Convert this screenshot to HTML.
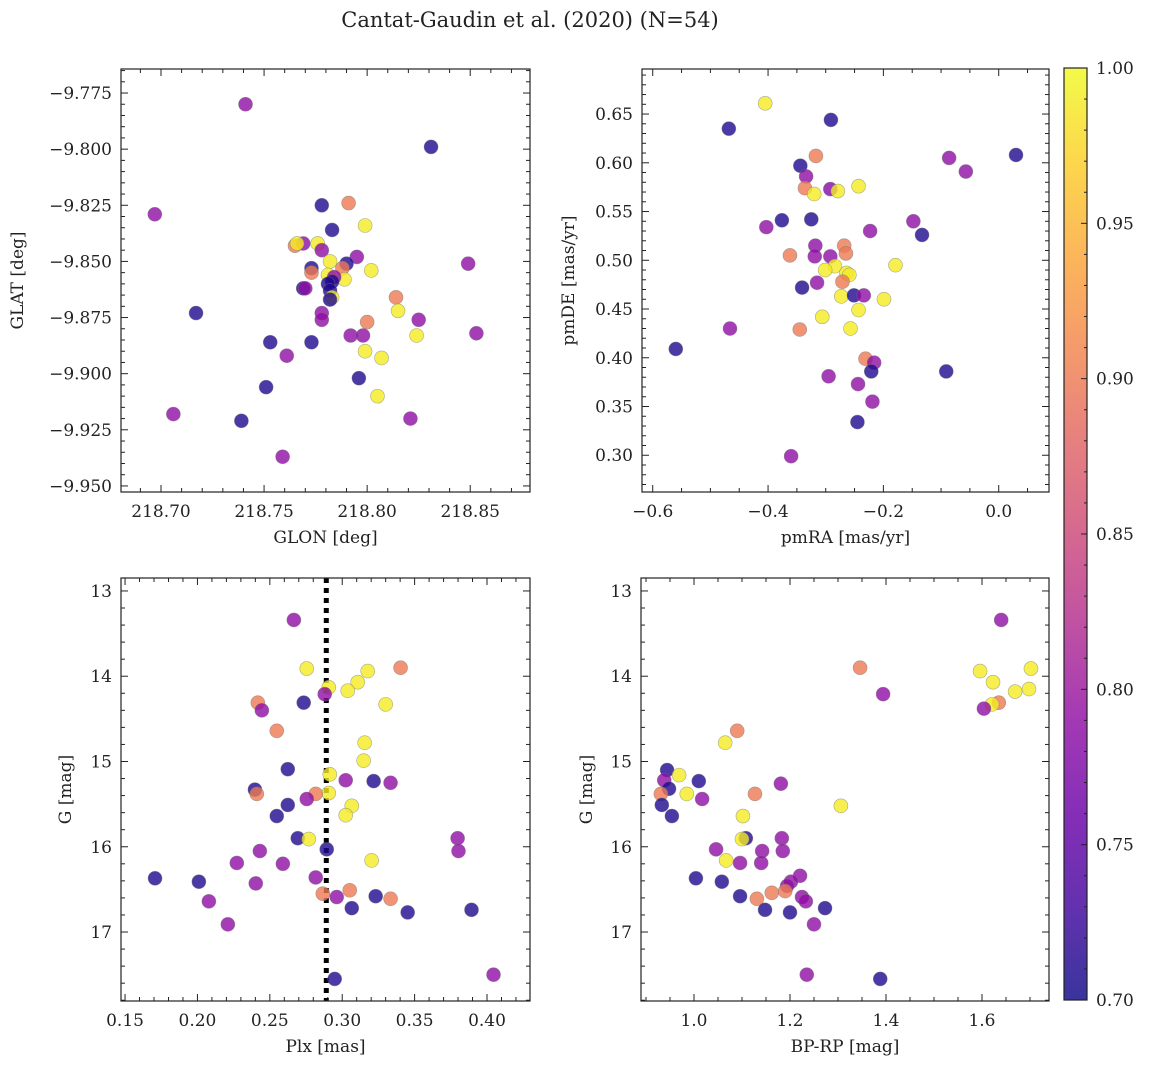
<!DOCTYPE html>
<html><head><meta charset="utf-8"><style>
html,body{margin:0;padding:0;background:#fff;}
svg text{font-family:"DejaVu Serif","Liberation Serif",serif;fill:#222;}
</style></head><body>
<svg id="fig" width="1149" height="1068" viewBox="0 0 1149 1068" xmlns="http://www.w3.org/2000/svg">
<defs>
<linearGradient id="plasma" x1="0" y1="1" x2="0" y2="0">
<stop offset="0" stop-color="#0d0887"/><stop offset="0.1" stop-color="#41049d"/><stop offset="0.2" stop-color="#6a00a8"/><stop offset="0.3" stop-color="#8f0da4"/><stop offset="0.4" stop-color="#b12a90"/><stop offset="0.5" stop-color="#cc4778"/><stop offset="0.6" stop-color="#e16462"/><stop offset="0.7" stop-color="#f2844b"/><stop offset="0.8" stop-color="#fca636"/><stop offset="0.9" stop-color="#fcce25"/><stop offset="1" stop-color="#f0f921"/>
</linearGradient>
</defs>
<text x="530" y="27" font-size="21" text-anchor="middle">Cantat-Gaudin et al. (2020) (N=54)</text>
</svg>
<script>
// Panel 1: GLON vs GLAT
const p1Glon=[218.741,218.831,218.697,218.778,218.791,218.799,218.783,218.769,218.765,218.766,218.776,218.778,218.795,218.790,218.782,218.773,218.773,218.788,218.802,218.781,218.789,218.784,218.783,218.781,218.782,218.769,218.770,218.783,218.782,218.814,218.849,218.717,218.778,218.778,218.815,218.825,218.800,218.792,218.798,218.824,218.853,218.753,218.773,218.761,218.799,218.807,218.796,218.751,218.805,218.706,218.739,218.821,218.759];
const p1Glat=[-9.780,-9.799,-9.829,-9.825,-9.824,-9.834,-9.836,-9.842,-9.843,-9.842,-9.842,-9.845,-9.848,-9.851,-9.850,-9.853,-9.855,-9.853,-9.854,-9.856,-9.858,-9.857,-9.859,-9.860,-9.863,-9.862,-9.862,-9.866,-9.867,-9.866,-9.851,-9.873,-9.873,-9.876,-9.872,-9.876,-9.877,-9.883,-9.883,-9.883,-9.882,-9.886,-9.886,-9.892,-9.890,-9.893,-9.902,-9.906,-9.910,-9.918,-9.921,-9.920,-9.937];
const p1Prob=[0.79,0.71,0.79,0.71,0.90,0.99,0.71,0.79,0.90,0.99,0.99,0.79,0.79,0.71,0.99,0.71,0.90,0.90,0.99,0.99,0.99,0.79,0.71,0.71,0.71,0.71,0.79,0.99,0.71,0.90,0.79,0.71,0.79,0.79,0.99,0.79,0.90,0.79,0.79,0.99,0.79,0.71,0.71,0.79,0.99,0.99,0.71,0.71,0.99,0.79,0.71,0.79,0.79];
// Panel 2: pmRA vs pmDE
const p2Pmra=[-0.405,-0.468,-0.291,0.030,-0.086,-0.057,-0.344,-0.317,-0.334,-0.336,-0.292,-0.279,-0.320,-0.243,-0.376,-0.325,-0.403,-0.148,-0.133,-0.223,-0.318,-0.268,-0.362,-0.319,-0.292,-0.265,-0.284,-0.179,-0.301,-0.264,-0.259,-0.341,-0.315,-0.271,-0.273,-0.251,-0.234,-0.199,-0.243,-0.306,-0.466,-0.345,-0.257,-0.560,-0.231,-0.216,-0.221,-0.091,-0.295,-0.244,-0.219,-0.245,-0.360];
const p2Pmde=[0.661,0.635,0.644,0.608,0.605,0.591,0.597,0.607,0.586,0.574,0.573,0.571,0.568,0.576,0.541,0.542,0.534,0.540,0.526,0.530,0.515,0.515,0.505,0.504,0.504,0.507,0.494,0.495,0.490,0.487,0.485,0.472,0.477,0.478,0.463,0.464,0.464,0.460,0.449,0.442,0.430,0.429,0.430,0.409,0.399,0.395,0.386,0.386,0.381,0.373,0.355,0.334,0.299];
const p2Prob=[0.99,0.71,0.71,0.71,0.79,0.79,0.71,0.90,0.79,0.90,0.78,0.99,0.99,0.99,0.71,0.71,0.79,0.79,0.71,0.79,0.79,0.90,0.90,0.79,0.79,0.90,0.99,0.99,0.99,0.99,0.99,0.71,0.79,0.90,0.99,0.71,0.79,0.99,0.99,0.99,0.79,0.90,0.99,0.71,0.90,0.79,0.71,0.71,0.79,0.79,0.79,0.71,0.79];
// Panel 3: Plx vs G
const p3Plx=[0.2666,0.2755,0.3403,0.3176,0.3107,0.2907,0.3038,0.2879,0.2417,0.2734,0.3300,0.2445,0.2548,0.3155,0.3148,0.2624,0.2914,0.3024,0.3217,0.3334,0.2397,0.2410,0.2907,0.2817,0.2755,0.2624,0.3066,0.3024,0.2548,0.2693,0.2769,0.3797,0.2431,0.2893,0.3803,0.3203,0.2272,0.2590,0.1707,0.2817,0.2010,0.2403,0.3052,0.2866,0.3231,0.2962,0.3334,0.2079,0.3066,0.3452,0.3893,0.2210,0.4045,0.2948];
const p3G=[13.34,13.91,13.90,13.94,14.07,14.13,14.17,14.21,14.31,14.31,14.33,14.40,14.64,14.78,14.99,15.09,15.15,15.22,15.23,15.25,15.33,15.38,15.37,15.38,15.44,15.51,15.52,15.63,15.64,15.90,15.91,15.90,16.05,16.03,16.05,16.16,16.19,16.20,16.37,16.36,16.41,16.43,16.51,16.55,16.58,16.59,16.61,16.64,16.72,16.77,16.74,16.91,17.50,17.55];
const p3Prob=[0.79,0.99,0.90,0.99,0.99,0.99,0.99,0.79,0.90,0.71,0.99,0.79,0.90,0.99,0.99,0.71,0.99,0.79,0.71,0.79,0.71,0.90,0.99,0.90,0.79,0.71,0.99,0.99,0.71,0.71,0.99,0.79,0.79,0.71,0.79,0.99,0.79,0.79,0.71,0.79,0.71,0.79,0.90,0.90,0.71,0.79,0.90,0.79,0.71,0.71,0.71,0.79,0.79,0.71];
const plxMean=0.289;
// Panel 4: BP-RP vs G
const p4Bprp=[1.640,1.346,1.596,1.702,1.623,1.394,1.669,1.698,1.635,1.621,1.604,1.090,1.065,0.944,0.969,0.938,1.010,1.181,0.948,0.931,0.985,1.127,1.017,0.933,1.306,1.102,0.954,1.108,1.100,1.183,1.046,1.142,1.185,1.067,1.096,1.140,1.221,1.004,1.058,1.202,1.194,1.162,1.131,1.096,1.190,1.225,1.233,1.273,1.148,1.200,1.250,1.235,1.388];
const p4G=[13.34,13.90,13.94,13.91,14.07,14.21,14.18,14.15,14.31,14.33,14.38,14.64,14.78,15.10,15.16,15.22,15.23,15.26,15.32,15.38,15.38,15.38,15.44,15.51,15.52,15.64,15.64,15.90,15.91,15.90,16.03,16.05,16.05,16.16,16.19,16.19,16.34,16.37,16.41,16.41,16.46,16.54,16.61,16.58,16.52,16.59,16.64,16.72,16.74,16.77,16.91,17.50,17.55];
const p4Prob=[0.79,0.90,0.99,0.99,0.99,0.79,0.99,0.99,0.90,0.99,0.79,0.90,0.99,0.71,0.99,0.79,0.71,0.79,0.71,0.90,0.99,0.90,0.79,0.71,0.99,0.99,0.71,0.71,0.99,0.79,0.79,0.79,0.79,0.99,0.79,0.79,0.79,0.71,0.71,0.79,0.79,0.90,0.90,0.71,0.90,0.79,0.79,0.71,0.71,0.71,0.79,0.79,0.71];
// Colorbar
const cbTicks=[0.70,0.75,0.80,0.85,0.90,0.95,1.00];

const NS="http://www.w3.org/2000/svg";
const svg=document.getElementById('fig');
function mk(tag,attrs,parent){const e=document.createElementNS(NS,tag);for(const k in attrs)e.setAttribute(k,attrs[k]);(parent||svg).appendChild(e);return e;}
const stops=[[0,[13,8,135]],[0.1,[65,4,157]],[0.2,[106,0,168]],[0.3,[143,13,164]],[0.4,[177,42,144]],[0.5,[204,71,120]],[0.6,[225,100,98]],[0.7,[242,132,75]],[0.8,[252,166,54]],[0.9,[252,206,37]],[1,[240,249,33]]];
function plasma(v){let t=Math.max(0,Math.min(1,(v-0.7)/0.3));for(let i=1;i<stops.length;i++){if(t<=stops[i][0]){const a=stops[i-1],b=stops[i],f=(t-a[0])/(b[0]-a[0]);const c=a[1].map((x,j)=>Math.round(x+(b[1][j]-x)*f));return `rgb(${c[0]},${c[1]},${c[2]})`;}}return 'rgb(240,249,33)';}
function fmt(v,d){const s=Math.abs(v).toFixed(d);return (v<-1e-9?'\u2212':'')+s;}
function lin(d0,d1,r0,r1){return v=>r0+(v-d0)/(d1-d0)*(r1-r0);}

function panel(o){
  const g=mk('g',{});
  
  
  const X=lin(o.xd[0],o.xd[1],o.L,o.R), Y=lin(o.yd[0],o.yd[1],o.B,o.T);
  const tg=mk('g',{stroke:'#222','stroke-width':1},g);
  
  
  function ticks(dom,step,minor,isX,dec){
    const lo=Math.min(dom[0],dom[1]),hi=Math.max(dom[0],dom[1]);
    const s=minor;
    for(let k=Math.ceil(lo/s-1e-6);k*s<=hi+1e-9;k++){
      const v=k*s;const major=Math.abs(v/step-Math.round(v/step))<1e-6;const len=major?7:4;
      if(isX){const x=X(v);mk('line',{x1:x,x2:x,y1:o.B,y2:o.B-len},tg);mk('line',{x1:x,x2:x,y1:o.T,y2:o.T+len},tg);
        if(major){const t=mk('text',{x:x,y:o.B+25,'font-size':17,'text-anchor':'middle',stroke:'none'},g);t.textContent=fmt(v,dec);
          
          }}
      else{const y=Y(v);mk('line',{x1:o.L,x2:o.L+len,y1:y,y2:y},tg);mk('line',{x1:o.R,x2:o.R-len,y1:y,y2:y},tg);
        if(major){const t=mk('text',{x:o.L-9,y:y+6,'font-size':17,'text-anchor':'end',stroke:'none'},g);t.textContent=fmt(v,dec);
          
          }}
    }
  }
  ticks(o.xd,o.xs[0],o.xs[1],true,o.xdec);
  ticks(o.yd,o.ys[0],o.ys[1],false,o.ydec);
  if(o.vline!==undefined){const l=mk('line',{x1:X(o.vline),x2:X(o.vline),y1:o.T,y2:o.B,stroke:'#000','stroke-width':5,'stroke-dasharray':'5,5'},g);
    
    }
  for(let i=0;i<o.x.length;i++){
    const c=mk('circle',{cx:X(o.x[i]),cy:Y(o.y[i]),r:7,fill:plasma(o.p[i]),'fill-opacity':0.8,stroke:'#777','stroke-opacity':0.6,'stroke-width':0.6},g);
    
    
  }
  const fr=mk('rect',{x:o.L,y:o.T,width:o.R-o.L,height:o.B-o.T,fill:'none',stroke:'#222','stroke-width':1.2},g);
  
  
  const xl=mk('text',{x:(o.L+o.R)/2,y:o.B+51,'font-size':17,'text-anchor':'middle'},g);xl.textContent=o.xlab;
  
  
  const yl=mk('text',{x:0,y:0,'font-size':17,'text-anchor':'middle',transform:`translate(${o.ylx},${(o.T+o.B)/2}) rotate(-90)`},g);yl.textContent=o.ylab;
  
  
}
panel({name:'glon-glat-panel',L:121,R:530,T:69,B:492,xd:[218.6806,218.8790],yd:[-9.9527,-9.7643],xs:[0.05,0.01],ys:[0.025,0.005],xdec:2,ydec:3,x:p1Glon,y:p1Glat,p:p1Prob,xlab:'GLON [deg]',ylab:'GLAT [deg]',ylx:23});
panel({name:'pm-panel',L:642,R:1049,T:69,B:492,xd:[-0.6186,0.0872],yd:[0.2623,0.6962],xs:[0.2,0.05],ys:[0.05,0.01],xdec:1,ydec:2,x:p2Pmra,y:p2Pmde,p:p2Prob,xlab:'pmRA [mas/yr]',ylab:'pmDE [mas/yr]',ylx:574});
panel({name:'plx-g-panel',L:121,R:530,T:578,B:1001,xd:[0.1472,0.4297],yd:[17.809,12.848],xs:[0.05,0.01],ys:[1,0.2],xdec:2,ydec:0,x:p3Plx,y:p3G,p:p3Prob,xlab:'Plx [mas]',ylab:'G [mag]',ylx:71,vline:plxMean});
panel({name:'cmd-panel',L:641,R:1049,T:578,B:1001,xd:[0.8896,1.7396],yd:[17.809,12.848],xs:[0.2,0.05],ys:[1,0.2],xdec:1,ydec:0,x:p4Bprp,y:p4G,p:p4Prob,xlab:'BP-RP [mag]',ylab:'G [mag]',ylx:592});
(function(){
  const g=mk('g',{});
  
  
  const T=68,B=1000,L=1064,R=1087;const Y=lin(0.7,1.0,B,T);
  mk('rect',{x:L,y:T,width:R-L,height:B-T,fill:'url(#plasma)','fill-opacity':0.82},g);
  mk('rect',{x:L,y:T,width:R-L,height:B-T,fill:'none',stroke:'#222','stroke-width':1.2},g);
  for(let k=70;k<=100;k++){const y=Y(k/100);const major=k%5===0;mk('line',{x1:R,x2:R-(major?6:3),y1:y,y2:y,stroke:'#222'},g);}
  cbTicks.forEach(v=>{const t=mk('text',{x:R+9,y:Y(v)+6,'font-size':17},g);t.textContent=v.toFixed(2);
    
    });
})();
</script>
</body></html>
